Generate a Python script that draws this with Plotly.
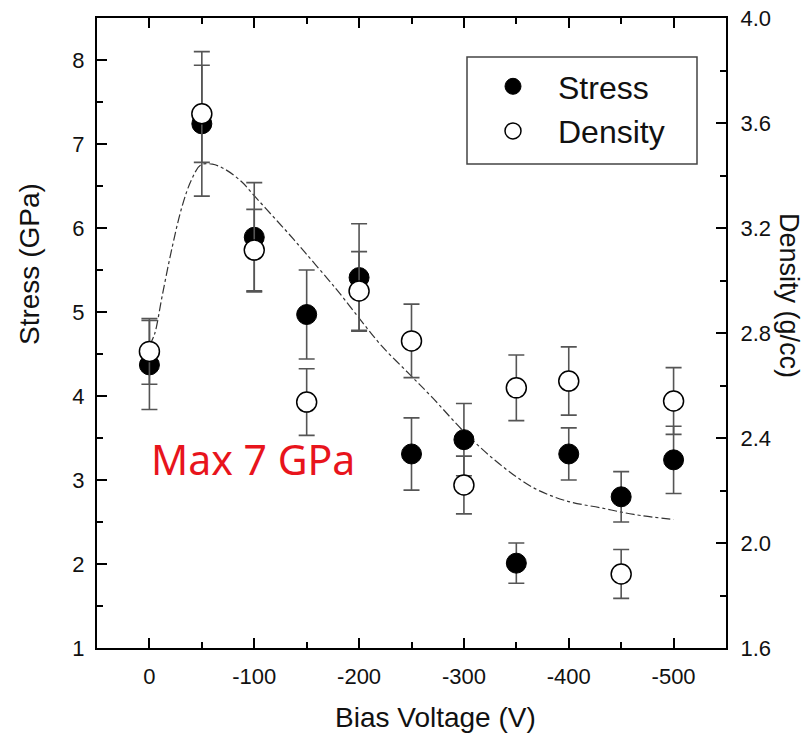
import plotly.graph_objects as go

# ---- data ----
bias_v = [0, -50, -100, -150, -200, -250, -300, -350, -400, -450, -500]
stress = [4.37, 7.24, 5.89, 4.97, 5.41, 3.31, 3.48, 2.01, 3.31, 2.80, 3.24]
stress_err = [0.53, 0.86, 0.65, 0.53, 0.64, 0.43, 0.43, 0.24, 0.31, 0.30, 0.40]
density = [2.73, 3.635, 3.116, 2.537, 2.96, 2.77, 2.221, 2.591, 2.617, 1.882, 2.541]
density_err = [0.125, 0.185, 0.155, 0.127, 0.15, 0.14, 0.11, 0.125, 0.13, 0.093, 0.127]

trend_x = [0, -5, -12, -21, -31, -40, -49, -60, -72, -88, -101, -117, -133, -149,
           -171, -181, -203, -222, -248, -270, -302, -334, -366, -398, -430, -462, -500]
trend_y = [4.60, 4.74, 5.18, 5.73, 6.25, 6.57, 6.75, 6.76, 6.70, 6.55, 6.37, 6.15, 5.93, 5.70,
           5.38, 5.23, 4.88, 4.59, 4.26, 3.98, 3.55, 3.19, 2.91, 2.75, 2.67, 2.59, 2.53]

x_ticks = [0, -100, -200, -300, -400, -500]
x_tick_text = ["0", "-100", "-200", "-300", "-400", "-500"]
stress_ticks = [1, 2, 3, 4, 5, 6, 7, 8]
density_ticks = [1.6, 2.0, 2.4, 2.8, 3.2, 3.6, 4.0]
density_tick_text = ["1.6", "2.0", "2.4", "2.8", "3.2", "3.6", "4.0"]

FONT = "Liberation Sans, Arial, sans-serif"
W, H = 806, 735
ML, MR, MT, MB = 97, 80, 18, 87
PW, PH = W - ML - MR, H - MT - MB


def px_x(px):
    return (px - ML) / PW


def px_y(py):
    return (H - MB - py) / PH


fig = go.Figure()

fig.add_trace(go.Scatter(
    x=trend_x, y=trend_y, mode="lines", showlegend=False, hoverinfo="skip",
    line=dict(color="#333333", width=1.2, dash="dashdot", shape="spline", smoothing=1.0),
))

fig.add_trace(go.Scatter(
    x=bias_v, y=stress, mode="markers", name="Stress",
    marker=dict(symbol="circle", size=20, color="black", line=dict(color="black", width=1)),
    error_y=dict(type="data", array=stress_err, visible=True, color="#555555", thickness=1.6, width=8),
))

fig.add_trace(go.Scatter(
    x=bias_v, y=density, mode="markers", name="Density", yaxis="y2",
    marker=dict(symbol="circle", size=20, color="white", line=dict(color="black", width=1.5)),
    error_y=dict(type="data", array=density_err, visible=True, color="#555555", thickness=1.6, width=8),
))

axis_common = dict(
    showgrid=False, zeroline=False, showline=True, linecolor="black", linewidth=2,
    ticks="inside", ticklen=10, tickwidth=2, tickcolor="black", automargin=False,
    tickfont=dict(family=FONT, size=22, color="#111111"),
)

title_font = dict(family=FONT, size=28, color="#111111")

fig.update_layout(
    width=W, height=H, autosize=False,
    margin=dict(l=ML, r=MR, t=MT, b=MB),
    paper_bgcolor="white", plot_bgcolor="white",
    font=dict(family=FONT, color="#111111"),
    xaxis=dict(
        **axis_common, range=[50, -550], tickvals=x_ticks, ticktext=x_tick_text, mirror="ticks",
        minor=dict(dtick=50, tick0=0, ticks="inside", ticklen=6, tickwidth=2, tickcolor="black"),
        ticklabelstandoff=8,
    ),
    yaxis=dict(
        **axis_common, range=[1, 8.5], tickvals=stress_ticks,
        minor=dict(dtick=0.5, tick0=1, ticks="inside", ticklen=6, tickwidth=2, tickcolor="black"),
        ticklabelstandoff=6,
    ),
    yaxis2=dict(
        **axis_common, range=[1.6, 4.0], tickvals=density_ticks, ticktext=density_tick_text,
        overlaying="y", side="right",
        minor=dict(dtick=0.2, tick0=1.6, ticks="inside", ticklen=6, tickwidth=2, tickcolor="black"),
        ticklabelstandoff=8,
    ),
    legend=dict(
        x=px_x(468), y=px_y(59), xanchor="left", yanchor="top",
        bgcolor="rgba(0,0,0,0)", borderwidth=0,
        font=dict(family=FONT, size=32, color="#111111"),
        itemwidth=80, tracegroupgap=0,
    ),
    shapes=[
        dict(type="rect", xref="paper", yref="paper",
             x0=px_x(467), x1=px_x(697), y0=px_y(164), y1=px_y(57),
             line=dict(color="#444444", width=1.5), fillcolor="rgba(0,0,0,0)", layer="above"),
    ],
    annotations=[
        dict(text="Max 7 GPa", x=0, y=3.25, xref="x", yref="y", xanchor="left", yanchor="middle",
             showarrow=False, font=dict(family="Noto Sans, Open Sans, sans-serif", size=41, color="#e8141c")),
        dict(text="Bias Voltage (V)", x=px_x(435), y=px_y(717), xref="paper", yref="paper",
             xanchor="center", yanchor="middle", showarrow=False, font=title_font),
        dict(text="Stress (GPa)", x=px_x(29), y=px_y(264), xref="paper", yref="paper",
             xanchor="center", yanchor="middle", textangle=-90, showarrow=False, font=title_font),
        dict(text="Density (g/cc)", x=px_x(789), y=px_y(295), xref="paper", yref="paper",
             xanchor="center", yanchor="middle", textangle=90, showarrow=False,
             font=dict(family=FONT, size=27, color="#111111")),
    ],
)

fig.write_html("out.html", config={"displayModeBar": False},
               post_script="document.body.style.margin='0';")
